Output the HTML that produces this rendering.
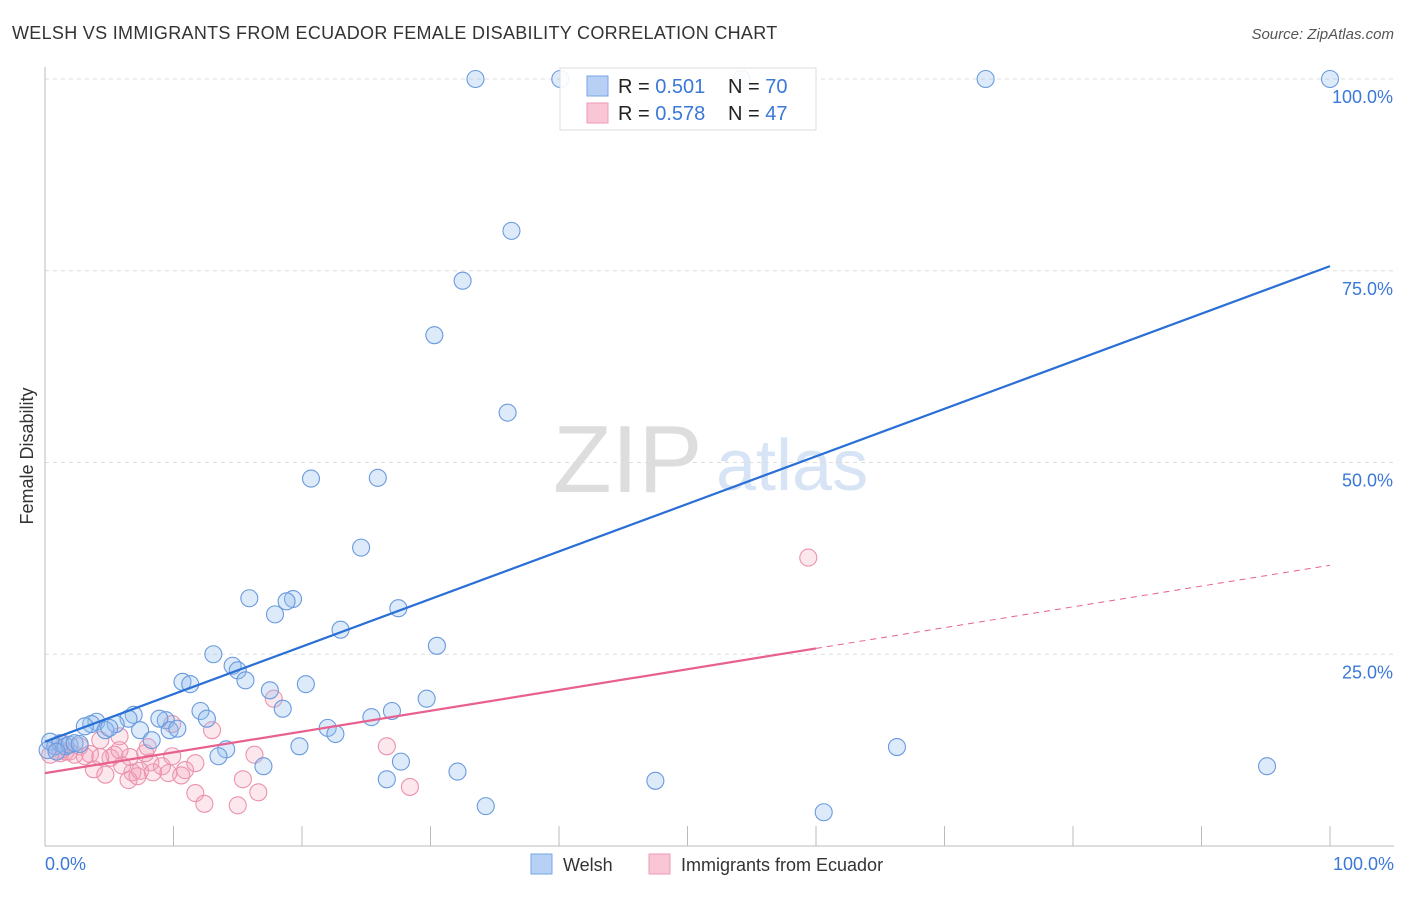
<!DOCTYPE html>
<html><head><meta charset="utf-8"><style>
body{margin:0;background:#fff;font-family:"Liberation Sans",sans-serif;}
svg text{font-family:"Liberation Sans",sans-serif;}
</style></head><body>
<svg id="c" width="1406" height="892">
<text x="12" y="39" font-size="18" fill="#333" letter-spacing="0.3">WELSH VS IMMIGRANTS FROM ECUADOR FEMALE DISABILITY CORRELATION CHART</text>
<text x="1394" y="39" font-size="15" fill="#555" font-style="italic" text-anchor="end">Source: ZipAtlas.com</text>
<text x="33" y="456" font-size="18" fill="#333" text-anchor="middle" transform="rotate(-90 33 456)">Female Disability</text>
<g><text x="553" y="492" font-size="96" fill="#ddd" font-family="Liberation Serif">ZIP</text><text x="716" y="490" font-size="72" fill="#d6e4f5">atlas</text></g>
<g id="grid"></g><g id="ticks"></g>
<line x1="45" y1="67" x2="45" y2="846" stroke="#bbb"/>
<line x1="45" y1="846" x2="1394" y2="846" stroke="#bbb"/>
<g id="pts"></g><g id="lines"></g>
<text x="45" y="870" font-size="18" fill="#3b78d8">0.0%</text>
<text x="1394" y="870" font-size="18" fill="#3b78d8" text-anchor="end">100.0%</text>
<g>
<rect x="560" y="68" width="256" height="62" fill="#fff" fill-opacity="0.9" stroke="#ddd"/>
<rect x="587" y="76" width="21" height="20" fill="#b7d0f4" stroke="#7aa6e6"/>
<rect x="587" y="103" width="21" height="20" fill="#f8c6d4" stroke="#ee9bb4"/>
<text x="618" y="93" font-size="20" fill="#222">R = <tspan fill="#3b78d8">0.501</tspan></text>
<text x="728" y="93" font-size="20" fill="#222">N = <tspan fill="#3b78d8">70</tspan></text>
<text x="618" y="120" font-size="20" fill="#222">R = <tspan fill="#3b78d8">0.578</tspan></text>
<text x="728" y="120" font-size="20" fill="#222">N = <tspan fill="#3b78d8">47</tspan></text>
</g>
<g><rect x="531" y="854" width="21" height="20" fill="#b7d0f4" stroke="#7aa6e6"/><text x="563" y="871" font-size="18" fill="#333">Welsh</text></g>
<g><rect x="649" y="854" width="21" height="20" fill="#f8c6d4" stroke="#ee9bb4"/><text x="681" y="871" font-size="18" fill="#333">Immigrants from Ecuador</text></g>
</svg>
<script>
const welshX=[33.5,40.1,54.2,73.2,100,36.3,32.5,30.3,36,20.7,25.9,24.6,15.9,19.3,18.8,17.9,27.5,23,30.5,13.1,14.6,15,15.6,10.7,11.3,20.3,17.5,18.5,29.7,12.1,12.6,25.4,27,22,22.6,9.4,8.9,6.9,6.5,5.5,4,3.6,3.1,4.7,5,7.4,9.7,10.3,19.8,14.1,13.5,66.3,8.3,17.0,27.7,32.1,26.6,47.5,95.1,34.3,60.6,0.4,0.8,1.2,1.6,1.9,2.3,2.7,0.2,0.9];
const welshY=[100,100,100,100,100,80.2,73.7,66.6,56.5,47.9,48,38.9,32.3,32.2,31.9,30.2,31,28.2,26.1,25,23.5,22.9,21.6,21.4,21.1,21.1,20.3,17.9,19.2,17.6,16.6,16.8,17.6,15.4,14.6,16.4,16.6,17.1,16.6,15.9,16.2,15.9,15.6,15.1,15.4,15.1,15.1,15.3,13.0,12.6,11.7,12.9,13.8,10.4,11.0,9.7,8.7,8.5,10.4,5.2,4.4,13.6,13,13.4,13,13.2,13.4,13.3,12.5,12.3];
const ecuX=[59.4,17.8,13,9.9,26.6,8,5.8,4.3,2.7,1.2,0.4,1.9,3.5,5.1,6.6,6.8,8.2,9.1,10.9,10.6,9.6,7.4,6,3.8,4.7,6.5,7.2,8.4,11.7,12.4,15,15.4,16.6,16.3,28.4,1.2,1.6,2.3,3.1,0.8,1.5,5.4,5.8,4.3,11.7,9.9,7.8];
const ecuY=[37.6,19.2,15.1,15.9,13,12.9,14.3,13.8,13,12.5,11.9,12.3,12,11.5,11.6,9.6,10.9,10.4,9.9,9.2,9.5,9.8,10.5,10,9.3,8.6,9.1,9.6,6.9,5.5,5.3,8.7,7,11.9,7.7,12.1,12.3,11.9,11.7,13,13.3,11.9,12.5,11.6,10.8,11.7,12.1];
const fitW=[13.6,75.6], fitE=[9.5,36.6], eSolidEnd=60;
const yTicks=[25,50,75,100];
const X=v=>45+v*12.85, Y=v=>846-v*7.67;
const NS='http://www.w3.org/2000/svg';
function mk(p,t,a){const e=document.createElementNS(NS,t);for(const k in a)e.setAttribute(k,a[k]);document.getElementById(p).appendChild(e);return e;}
yTicks.forEach(t=>{
 const l=mk('grid','line',{x1:45,x2:1394,y1:Y(t),y2:Y(t),stroke:'#ddd','stroke-dasharray':'4,4'});
 
 
 const tx=mk('grid','text',{x:1393,y:Y(t)+24,'font-size':18,fill:'#3b78d8','text-anchor':'end'});
 tx.textContent=t.toFixed(1)+'%';
 
 
});
for(let i=1;i<=10;i++){
 const l=mk('ticks','line',{x1:X(i*10),x2:X(i*10),y1:826,y2:846,stroke:'#bbb'});
 
 
}
ecuX.forEach((x,i)=>{
 const c=mk('pts','circle',{cx:X(x),cy:Y(ecuY[i]),r:8.5,fill:'rgba(245,160,185,0.25)',stroke:'#eb93ad','stroke-width':1.1});
 
 
});
welshX.forEach((x,i)=>{
 const c=mk('pts','circle',{cx:X(x),cy:Y(welshY[i]),r:8.5,fill:'rgba(150,190,240,0.33)',stroke:'#6a9ade','stroke-width':1.1});
 
 
});
const lw=mk('lines','line',{x1:X(0),y1:Y(fitW[0]),x2:X(100),y2:Y(fitW[1]),stroke:'#2a6fd6','stroke-width':2.2});


const eAt=v=>fitE[0]+(fitE[1]-fitE[0])*v/100;
const le=mk('lines','line',{x1:X(0),y1:Y(fitE[0]),x2:X(eSolidEnd),y2:Y(eAt(eSolidEnd)),stroke:'#e8618e','stroke-width':2.2});


const ld=mk('lines','line',{x1:X(eSolidEnd),y1:Y(eAt(eSolidEnd)),x2:X(100),y2:Y(fitE[1]),stroke:'#e8618e','stroke-width':1,'stroke-dasharray':'6,5'});


</script>
</body></html>
